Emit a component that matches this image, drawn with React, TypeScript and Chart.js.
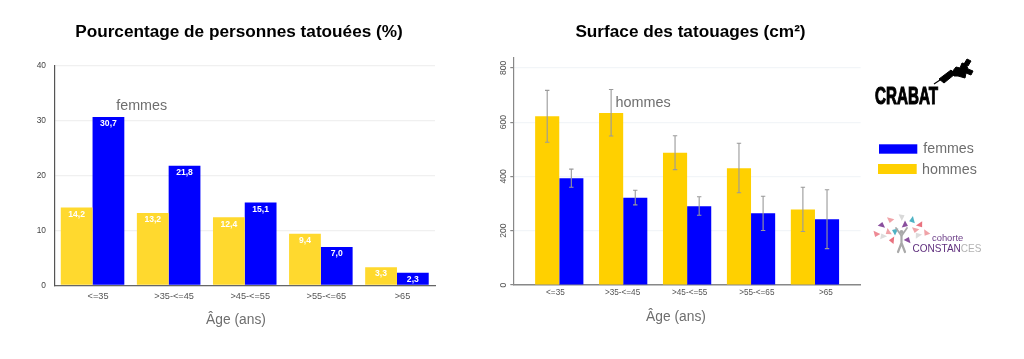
import React, { useEffect, useRef } from "react";
import { Chart, registerables } from "chart.js";

Chart.register(...registerables);

const ageGroups = ["<=35", ">35-<=45", ">45-<=55", ">55-<=65", ">65"];

const pctHommes = [14.2, 13.2, 12.4, 9.4, 3.3];
const pctFemmes = [30.7, 21.8, 15.1, 7.0, 2.3];

const surfTicks = [0, 200, 400, 600, 800];
const surfHommes = [622, 634, 487, 430, 278];
const surfFemmes = [393, 321, 290, 264, 242];
const surfHommesLow = [526, 549, 425, 340, 197];
const surfHommesHigh = [717, 720, 550, 522, 360];
const surfFemmesLow = [360, 295, 257, 201, 134];
const surfFemmesHigh = [427, 349, 325, 327, 351];

const FONT = "'Liberation Sans', Arial, sans-serif";
const YELLOW_L = "#FFD92E";
const YELLOW_R = "#FFD000";
const BLUE = "#0000FF";
const GREY_TEXT = "#6e6e6e";
const AGE_LABEL = "Âge (ans)";

type Note = { text: string; x: number; y: number; size: number };

const notesPlugin = (notes: Note[]) => ({
  id: "notes",
  afterDraw(chart: any) {
    const { ctx } = chart;
    ctx.save();
    ctx.fillStyle = GREY_TEXT;
    ctx.textAlign = "center";
    ctx.textBaseline = "middle";
    for (const n of notes) {
      ctx.font = `${n.size}px ${FONT}`;
      ctx.fillText(n.text, n.x, n.y);
    }
    ctx.restore();
  },
});

// Centre the title on the whole canvas rather than on the padded area.
const wideTitlePlugin = {
  id: "wideTitle",
  afterLayout(chart: any) {
    if (chart.titleBlock) {
      chart.titleBlock.left = 0;
      chart.titleBlock.right = chart.width;
    }
  },
};

const valueLabelPlugin = {
  id: "valueLabels",
  afterDatasetsDraw(chart: any) {
    const { ctx } = chart;
    ctx.save();
    ctx.fillStyle = "#ffffff";
    ctx.textAlign = "center";
    ctx.textBaseline = "middle";
    ctx.font = `bold 8.6px ${FONT}`;
    chart.data.datasets.forEach((ds: any, i: number) => {
      chart.getDatasetMeta(i).data.forEach((bar: any, j: number) => {
        ctx.fillText(ds.data[j].toFixed(1).replace(".", ","), bar.x, bar.y + 6.8);
      });
    });
    ctx.restore();
  },
};

const errorBarPlugin = {
  id: "errorBars",
  afterDatasetsDraw(chart: any) {
    const { ctx } = chart;
    const yScale = chart.scales.y;
    ctx.save();
    ctx.strokeStyle = "#9a9a9a";
    ctx.lineWidth = 1.1;
    chart.data.datasets.forEach((ds: any, i: number) => {
      chart.getDatasetMeta(i).data.forEach((bar: any, j: number) => {
        const lo = yScale.getPixelForValue(ds.errLow[j]);
        const hi = yScale.getPixelForValue(ds.errHigh[j]);
        ctx.beginPath();
        ctx.moveTo(bar.x, lo);
        ctx.lineTo(bar.x, hi);
        ctx.moveTo(bar.x - 2.2, lo);
        ctx.lineTo(bar.x + 2.2, lo);
        ctx.moveTo(bar.x - 2.2, hi);
        ctx.lineTo(bar.x + 2.2, hi);
        ctx.stroke();
      });
    });
    ctx.restore();
  },
};

const leaves: [number, number, number, string][] = [
  [876, 234, 30, "#ee8a95"],
  [883, 236, 160, "#dcdcdc"],
  [882, 225, 200, "#8a4f9e"],
  [890, 220, 20, "#f0a3a8"],
  [895, 231, 120, "#4fb3c4"],
  [902, 217, 250, "#d9d9d9"],
  [912, 220, 80, "#4fb3c4"],
  [905, 225, 300, "#8a4f9e"],
  [920, 225, 330, "#e9727f"],
  [915, 230, 20, "#f0a3a8"],
  [918, 235, 150, "#dcdcdc"],
  [926, 233, 40, "#f0a3a8"],
  [908, 240, 210, "#8a4f9e"],
  [892, 240, 100, "#e9727f"],
  [888, 232, 60, "#f0a3a8"],
];

function Logos() {
  return (
    <svg
      width={1024}
      height={359}
      style={{ position: "absolute", left: 0, top: 0 }}
      fontFamily={FONT}
    >
      {/* CRABAT */}
      <text
        x={875}
        y={104.3}
        fontWeight={700}
        fontSize={24}
        textLength={63}
        lengthAdjust="spacingAndGlyphs"
        stroke="#000"
        strokeWidth={1.1}
      >
        CRABAT
      </text>
      <g fill="#000" stroke="#000" strokeLinejoin="round">
        <path d="M934 84 L943 78" strokeWidth={1.2} fill="none" />
        <path d="M939 79 L951 70 L955 74 L944 83 Z" strokeWidth={1} />
        <path d="M952 72 L956 67 L960 68 L962 63 L966 64 L968 69 L973 71 L971 75 L966 73 L965 78 L958 76 L954 76 Z" strokeWidth={1} />
        <path d="M964 64 L967 59 L971 61 L968 66 Z" strokeWidth={1} />
      </g>

      {/* Legend */}
      <rect x={879} y={144.3} width={38.3} height={9.4} fill={BLUE} />
      <rect x={878} y={164} width={38.7} height={10} fill={YELLOW_R} />
      <text x={923.3} y={153.3} fontSize={14.2} fill={GREY_TEXT}>femmes</text>
      <text x={922} y={174} fontSize={14.3} fill={GREY_TEXT}>hommes</text>

      {/* Constances */}
      {leaves.map(([x, y, r, c], i) => (
        <path
          key={i}
          d="M-3.8 -1.6 L3.8 -2.2 L0.7 3 Z"
          fill={c}
          transform={`translate(${x} ${y}) rotate(${r})`}
        />
      ))}
      <g stroke="#a9a9a9" fill="none" strokeLinecap="round">
        <path d="M901.5 236 L901.5 243 L898 252 M901.5 243 L905 252" strokeWidth={2.2} />
        <path d="M896 228 L901.5 236 L907 228" strokeWidth={1.8} />
      </g>
      <circle cx={901.5} cy={232} r={2} fill="#a9a9a9" />
      <text x={932} y={241} fontSize={9.4} fill="#6b3d87">cohorte</text>
      <text x={912.5} y={251.8} fontSize={10.6} textLength={69} lengthAdjust="spacingAndGlyphs">
        <tspan fill="#5f2f7d">CONSTAN</tspan>
        <tspan fill="#b3b3b3">CES</tspan>
      </text>
    </svg>
  );
}

export default function App() {
  const leftRef = useRef<HTMLCanvasElement>(null);
  const rightRef = useRef<HTMLCanvasElement>(null);

  useEffect(() => {
    const left = new Chart(leftRef.current!, {
      type: "bar",
      data: {
        labels: ageGroups,
        datasets: [
          { label: "hommes", data: pctHommes, backgroundColor: YELLOW_L },
          { label: "femmes", data: pctFemmes, backgroundColor: BLUE },
        ],
      },
      plugins: [
        wideTitlePlugin,
        valueLabelPlugin,
        notesPlugin([
          { text: "femmes", x: 141.7, y: 106, size: 14.3 },
          { text: AGE_LABEL, x: 236, y: 320, size: 13.8 },
        ]),
      ],
      options: {
        animation: false,
        responsive: false,
        layout: { padding: { right: 43 } },
        datasets: { bar: { categoryPercentage: 0.835, barPercentage: 1 } },
        plugins: {
          legend: { display: false },
          tooltip: { enabled: false },
          title: {
            display: true,
            text: "Pourcentage de personnes tatouées (%)",
            color: "#000",
            font: { family: FONT, size: 17.2, weight: "bold", lineHeight: 1.2 },
            padding: { top: 21.5, bottom: 23.9 },
          },
        },
        scales: {
          x: {
            grid: { display: false, drawTicks: false },
            border: { color: "#666", width: 1.2 },
            afterFit: (s: any) => { s.height = 73.7; },
            ticks: {
              color: "#555",
              font: { family: FONT, size: 9.2 },
              labelOffset: 5.5,
              padding: 6,
              maxRotation: 0,
              autoSkip: false,
            },
          },
          y: {
            min: 0,
            max: 40,
            afterFit: (s: any) => { s.width = 54.5; },
            grid: { color: "#f0f0f0", lineWidth: 1.3, drawTicks: false },
            border: { color: "#555", width: 1.2 },
            ticks: {
              stepSize: 10,
              color: "#444",
              padding: 8.5,
              font: { family: FONT, size: 8.4 },
            },
          },
        },
      },
    } as any);

    const right = new Chart(rightRef.current!, {
      type: "bar",
      data: {
        datasets: [
          {
            label: "hommes",
            data: surfHommes.map((y, x) => ({ x, y })),
            backgroundColor: YELLOW_R,
            errLow: surfHommesLow,
            errHigh: surfHommesHigh,
          },
          {
            label: "femmes",
            data: surfFemmes.map((y, x) => ({ x, y })),
            backgroundColor: BLUE,
            errLow: surfFemmesLow,
            errHigh: surfFemmesHigh,
          },
        ],
      } as any,
      plugins: [
        wideTitlePlugin,
        errorBarPlugin,
        notesPlugin([
          { text: "hommes", x: 163, y: 102.7, size: 14.4 },
          { text: AGE_LABEL, x: 196, y: 316.7, size: 13.8 },
        ]),
      ],
      options: {
        animation: false,
        responsive: false,
        layout: { padding: { right: 40.4 } },
        datasets: { bar: { categoryPercentage: 0.755, barPercentage: 1 } },
        plugins: {
          legend: { display: false },
          tooltip: { enabled: false },
          title: {
            display: true,
            text: "Surface des tatouages (cm²)",
            color: "#000",
            font: { family: FONT, size: 17.2, weight: "bold", lineHeight: 1.2 },
            padding: { top: 22.2, bottom: 15.2 },
          },
        },
        scales: {
          x: {
            type: "linear",
            offset: false,
            min: -0.719,
            max: 4.714,
            grid: { display: false, drawTicks: false, offset: false },
            border: { color: "#888", width: 1.4 },
            afterFit: (s: any) => { s.height = 74; },
            afterBuildTicks: (s: any) => {
              s.ticks = [-0.06, 0.99, 2.04, 3.09, 4.17].map((value) => ({ value }));
            },
            ticks: {
              color: "#555",
              font: { family: FONT, size: 8.2 },
              padding: 3,
              maxRotation: 0,
              autoSkip: false,
              includeBounds: false,
              callback: (_v: any, i: number) => ageGroups[i],
            },
          },
          y: {
            min: 0,
            max: 836,
            afterFit: (s: any) => { s.width = 33.3; },
            afterBuildTicks: (s: any) => {
              s.ticks = surfTicks.map((value) => ({ value }));
            },
            grid: { color: "#f2f5f8", lineWidth: 1.2, tickLength: 3, tickColor: "#888" },
            border: { color: "#888", width: 1.2 },
            ticks: {
              color: "#555",
              padding: 0,
              minRotation: 90,
              maxRotation: 90,
              crossAlign: "center",
              font: { family: FONT, size: 8.6 },
            },
          },
        },
      },
    } as any);

    return () => {
      left.destroy();
      right.destroy();
    };
  }, []);

  return (
    <div
      style={{
        position: "absolute",
        left: 0,
        top: 0,
        width: 1024,
        height: 359,
        background: "#fff",
        overflow: "hidden",
        filter: "blur(0.55px)",
      }}
    >
      <canvas ref={leftRef} width={478} height={359} style={{ position: "absolute", left: 0, top: 0 }} />
      <canvas ref={rightRef} width={421} height={359} style={{ position: "absolute", left: 480, top: 0 }} />
      <Logos />
    </div>
  );
}
